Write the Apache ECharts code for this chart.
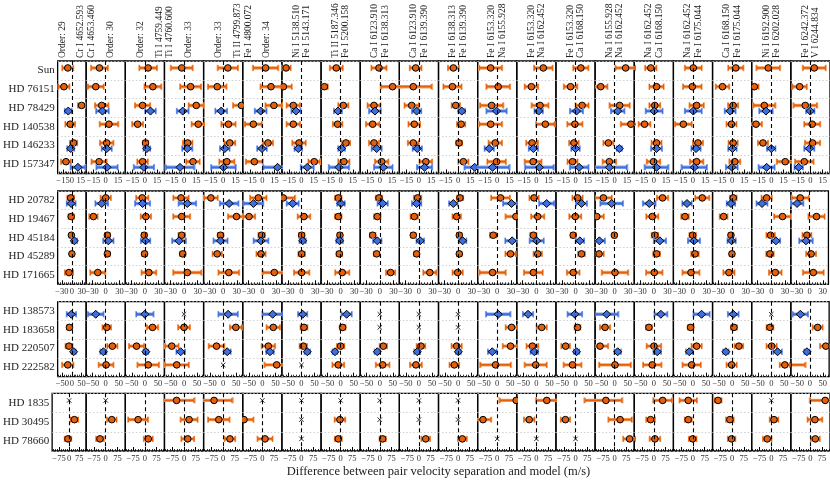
<!DOCTYPE html>
<html><head><meta charset="utf-8">
<script src="https://cdn.jsdelivr.net/npm/echarts@6/dist/echarts.min.js"></script>
<style>html,body{margin:0;padding:0;background:#fff}#c{width:830px;height:481px}</style>
</head><body><div id="c"></div><script>
// ---------- column titles ----------
const ORDER_TITLES = ['Order: 29','Order: 30','Order: 32','Order: 33','Order: 33','Order: 34'];
const PAIR_TITLES = ['Cr I 4652.593\nCr I 4653.460','Ti I 4759.449\nTi I 4760.600','Ti II 4799.873\nFe I 4800.072'];
const SINGLE_TITLES = [
 'Ni I 5138.510\nFe I 5143.171','Ti II 5187.346\nFe I 5200.158','Ca I 6123.910\nFe I 6138.313',
 'Ca I 6123.910\nFe I 6139.390','Fe I 6138.313\nFe I 6139.390','Fe I 6153.320\nNa I 6155.928',
 'Fe I 6153.320\nNa I 6162.452','Fe I 6153.320\nCa I 6168.150','Na I 6155.928\nNa I 6162.452',
 'Na I 6162.452\nCa I 6168.150','Na I 6162.452\nFe I 6175.044','Ca I 6168.150\nFe I 6175.044',
 'Ni I 6192.900\nFe I 6202.028','Fe I 6242.372\nV I 6244.834'];

// ---------- row groups & tick labels ----------
const GROUP1_STARS = ['Sun','HD 76151','HD 78429','HD 140538','HD 146233','HD 157347'];
const GROUP2_STARS = ['HD 20782','HD 19467','HD 45184','HD 45289','HD 171665'];
const GROUP3_STARS = ['HD 138573','HD 183658','HD 220507','HD 222582'];
const GROUP4_STARS = ['HD 1835','HD 30495','HD 78660'];
const GROUP_TICKS = [[-15,0,15],[-30,0,30],[-50,0,50],[-75,0,75]];
const GROUP_LIMITS = [24, 43, 75, 126];

// ---------- values (m/s): O = orange series, B = blue series, E = error ----------
const SUN_O   = [-6.9,-7.7,4,-2.8,5.7,4,-18.9,-5.3,-1,-4,-5.7,-8.1,8.5,6.5,13.4,-3.7,0.4,4.5,-3.7,4.7];
const SUN_OE  = [9,10,10.5,13,12,15,5.5,7.7,9,7,6.5,13.6,11,9,12,6.7,10,9,14,13.6];
const HD76151_O  = [-13.4,-12.2,9.8,8.1,-7.3,10.6,-22.2,-19.9,15.7,-6.9,-6.9,1.2,-6.1,-6.1,-17.1,3.3,-0.8,-11.8,-20.7,-13.2];
const HD76151_OE = [9,9.5,10,12.4,11,12.4,10,4,14,22,10.8,14,8,8,8,8.5,11,8,5,8.5];
const HD78429_O  = [16.3,-4.9,-2.8,15,22.4,14.2,-10,3.3,-7.1,-8.9,-2.8,-6.9,4.5,8.1,6.1,1.2,4.5,1.2,-8.5,-6.3];
const HD78429_OE = [6,8,9,9,10,10,8,6,7.7,8.5,5,13.8,10,7.7,12,6.5,8.5,6,13,14];
const HD78429_B  = [-6.1,-4,6.9,-1.6,-2.4,-2,-6.7,-3.3,-5.9,-2.8,4.5,-0.8,2.8,1.2,3.7,0.4,0.4,-2.4,-6.5,-0.2];
const HD78429_BE = [5.7,7.5,6.3,7,7,7,5.5,4.7,7,5.5,4,12,5,7.7,8,10,10,6.5,8,5];
const HD140538_O  = [-2.8,4,-8.9,17.5,6.5,-11,-10,-3.7,-8.7,-5.7,3.7,-8.1,11,-0.8,19.9,-11.4,-11.8,-0.8,-18.7,2.2];
const HD140538_OE = [8,11,6.5,8,8.5,10,8,5.7,8,7,5,13.6,11,9,12,7,10,6,7,9.5];
const HD146233_O  = [2.8,1.2,0.8,4.5,8.1,6.9,-3,6.5,-7.1,-6.9,1.2,-2.4,-5.3,-2,-7.7,3.3,6.1,1.2,-10.2,2.6];
const HD146233_OE = [6,8,3,5.7,6.5,6,8,5,6,6.5,3.5,8,7,5.7,6,6,6,5.5,6,9];
const HD146233_B  = [-2,1.2,2.4,4,2,-0.4,-3.9,1.2,-3.8,-2,null,-9.8,-3.7,0,5.7,3.3,3.7,0.4,0,-1.4];
const HD146233_BE = [5.7,6,4,6,5.7,5.7,4.5,4,6,5.5,null,5.5,5.5,5,3,6.5,5.5,5,5,6];
const HD157347_O  = [-10,-8.1,-2.8,11,4.5,-9.8,15.7,4,2.3,8.5,6.5,-0.8,-4,-3.7,-6.5,-0.4,4.5,3.3,17.1,-7.5];
const HD157347_OE = [8,9,6.3,8,9,10,7,6.7,8,7.5,6,11,10,6,8,8,8,6.5,10,11];
const HD157347_B  = [10.2,1.6,-1.2,-4.9,0.4,18.7,7.1,-2,4.3,6.9,20.3,-5.7,3.7,4.5,-6.5,3.3,1.6,-0.4,-5.7,-14.4];
const HD157347_BE = [12,12.6,12,17,14.6,17,7.7,12,11,9,12,20,17,11,21,14,15,7,9.5,5];

const HD20782_O  = [-3.6,0,-5.8,-6.6,-27,-8.8,-40,-5.1,-1.8,-2.9,4.2,7.3,-5.1,4.4,-24.8,19.2,20.4,2.5,-10.2,-21.5];
const HD20782_OE = [10,11,13,16.4,14.6,17.5,25,7,7,8,7,20,10,11,18,12,15,7.3,11,19];
const HD20782_B  = [-2.2,-8.8,-5.1,7.3,13.1,-19.7,-19.3,0.7,6.3,-5.1,-10.4,31.4,22.6,13.1,-6.6,-10,-13.1,-2.6,-20.4,-28.8];
const HD20782_BE = [13,13.5,16,18.6,19.7,21,12.8,8,11,10,9,18,16,11.7,24,13.5,10,9,11.7,14];
const HD19467_O  = [-2.2,-27,2.2,-5.1,29.2,-29.2,5.5,-5.1,-5.4,-10.2,-3.1,41,2.9,-0.6,-39.4,-3.4,-17.5,-18.7,24.8,15.7];
const HD19467_OE = [8,9,11,18,18,13,13.5,7,7,8,9,22,14,12.8,15,12.8,8,8.4,18,18];
const HD45184_O  = [-1.5,3.6,-1.5,-5.1,-5.8,-1.5,0.4,-1.5,-15.6,-12.4,2.7,-8.8,-6.6,-5.1,-0.7,2.4,-0.7,-2.6,-1.5,-6.2];
const HD45184_OE = [5,5,5,7,6,7,6,5,6,5,5,7,6.6,5.5,4,7,7,5,9,10];
const HD45184_B  = [7.3,5.8,1.5,-11,-5.8,-2.9,2.6,-2.2,-5.4,2.9,10,32.8,0.7,9.6,-33.6,13.4,2.2,-1.2,10.2,-8.4];
const HD45184_BE = [8,11,10,14.6,15,15.7,6.6,7,9,8,8,14.6,15,9,11.7,13,12.8,8.8,9,15];
const HD45289_O  = [0,3.6,-0.7,-2.9,-13.1,-2.9,0.4,-2.9,-6.9,-5.1,2.7,29.2,2.9,13.1,-34.3,6.1,4.4,-0.4,-2.9,3.3];
const HD45289_OE = [5,5,5,6,10,9.8,7,6,6,5,5,11,9,7.3,10,7.3,8,5,8,11];
const HD171665_O  = [-8.8,-17.5,8.8,7.3,12.4,26.3,0.4,3.6,23.8,24,-0.9,-10.2,-6.6,-5.1,0.7,1,-4.4,-7,8.8,8.4];
const HD171665_OE = [12,16,15.7,30,22,25,16.4,15,9.8,14,11,28,20,13.5,28,17.5,18,12,13.5,23];

const HD138573_B  = [-2.6,-38.3,0,null,19,39.6,4.5,23,null,null,null,3.8,-32,-2.6,-30.6,27,33,4.3,null,-37.7];
const HD138573_BE = [24,29,32,null,36,38,17,19,null,null,null,45,19,27,43,24,30,20,null,29];
const HD138573_X  = [3,8,9,10,18];
const HD183658_O  = [-12.8,3.8,29.4,0,48.5,42,9.6,7.7,null,null,null,55,20.4,7.7,-37,-18.8,-9,7,-5,30];
const HD183658_OE = [14,16,21,22,22,25,13,11,null,null,null,22,19,11,19,11,11,11,13,19];
const HD183658_X  = [8,9,10];
const HD220507_O  = [-15.3,25.5,-32,-47,-25.5,23,7,0,13.5,7.7,-5.5,51,-15.3,-38,-56,0.4,14,26,1.3,62];
const HD220507_OE = [18,19,28,25.5,29,25,14,14,14,16,19,29,22,16,30,27,19,16,19,22];
const HD220507_B  = [9,-9,3.8,-12.8,15.3,29.4,22.4,-21.7,-9.5,-6.4,1,-19,-7.7,3.8,11.5,13,-14,-24,24,-12];
const HD220507_BE = [11,11,9,16,13,14,10,9,10,11,9,16,14,10,12,14,12,10,16,10];
const HD222582_O  = [-21.7,1.3,12.8,-28,null,55,null,-9,11,-11.5,-14.4,-6.4,-2.6,-11.5,1.3,-6,-5,-2,52,-85];
const HD222582_OE = [29,27.5,40,45,null,45,null,22,25.5,22,18,57,41,33,59,34,34,19,19,65];
const HD222582_X  = [4,6];

const HD1835_O  = [null,null,null,-48,-58.8,null,null,null,null,null,null,122,67,150,-56.6,57,-30.5,-90.6,null,95];
const HD1835_OE = [null,null,null,111,115,null,null,null,null,null,null,104,67,89,102,59,54,22,null,95];
const HD1835_X  = [0,1,5,6,7,8,9,10,18];
const HD30495_O  = [39,39,-43.6,32.7,-28.3,-118,null,-4.4,null,null,null,-91.5,-46,-65,35,-21,-30.5,-14.4,17.6,29];
const HD30495_OE = [27,30,62,53,67,59,null,33,null,null,null,51,33,29,73,27,22,24,27,46];
const HD30495_X  = [6,8,9,10];
const HD78660_O  = [-8.7,-37,21.8,24,43.6,17.4,null,-15,18.7,43.6,27.7,null,null,null,96,7,-2,-3.5,-26,31.6];
const HD78660_OE = [24,24,28,40,33,47,null,22,20,27,28,null,null,null,40,33,24,24,27,28];
const HD78660_X  = [6,11,12,13];

// ---------- assemble ----------
const STAR_SERIES = {
 'Sun':{o:SUN_O,oe:SUN_OE}, 'HD 76151':{o:HD76151_O,oe:HD76151_OE},
 'HD 78429':{o:HD78429_O,oe:HD78429_OE,b:HD78429_B,be:HD78429_BE},
 'HD 140538':{o:HD140538_O,oe:HD140538_OE},
 'HD 146233':{o:HD146233_O,oe:HD146233_OE,b:HD146233_B,be:HD146233_BE},
 'HD 157347':{o:HD157347_O,oe:HD157347_OE,b:HD157347_B,be:HD157347_BE},
 'HD 20782':{o:HD20782_O,oe:HD20782_OE,b:HD20782_B,be:HD20782_BE},
 'HD 19467':{o:HD19467_O,oe:HD19467_OE},
 'HD 45184':{o:HD45184_O,oe:HD45184_OE,b:HD45184_B,be:HD45184_BE},
 'HD 45289':{o:HD45289_O,oe:HD45289_OE}, 'HD 171665':{o:HD171665_O,oe:HD171665_OE},
 'HD 138573':{b:HD138573_B,be:HD138573_BE,x:HD138573_X},
 'HD 183658':{o:HD183658_O,oe:HD183658_OE,x:HD183658_X},
 'HD 220507':{o:HD220507_O,oe:HD220507_OE,b:HD220507_B,be:HD220507_BE},
 'HD 222582':{o:HD222582_O,oe:HD222582_OE,x:HD222582_X},
 'HD 1835':{o:HD1835_O,oe:HD1835_OE,x:HD1835_X},
 'HD 30495':{o:HD30495_O,oe:HD30495_OE,x:HD30495_X},
 'HD 78660':{o:HD78660_O,oe:HD78660_OE,x:HD78660_X}
};
const GROUPS = [GROUP1_STARS, GROUP2_STARS, GROUP3_STARS, GROUP4_STARS];

// layout (pixels)
const LEFT = 47, COLW = 39.15, NCOL = 20;
const GROUP_BOX = [[61,112.5],[191,93.3],[301.7,75],[393.3,57.7]];
const FONT = 'Liberation Serif, Times New Roman, serif';
const ORANGE = '#e4600e', ORANGE_L = '#f6a25e', BLUE = '#3f6fde', BLUE_L = '#86a6f0';

function renderItem(params, api) {
  const v = api.value(0), row = api.value(1), err = api.value(2), kind = api.value(3);
  const c = api.coord([v, row]);
  const bh = api.size([0, 1])[1];
  const isBlue = (kind === 1 || kind === 3);
  const cy = c[1] + (isBlue ? 0.17 : -0.13) * bh;
  const cx = c[0];
  const ch = [];
  if (kind >= 2) {
    const s = 2.2;
    ch.push({type:'line', shape:{x1:cx-s,y1:cy-s,x2:cx+s,y2:cy+s}, style:{stroke:'#111',lineWidth:0.9}});
    ch.push({type:'line', shape:{x1:cx-s,y1:cy+s,x2:cx+s,y2:cy-s}, style:{stroke:'#111',lineWidth:0.9}});
    return {type:'group', children:ch};
  }
  const dark = isBlue ? BLUE : ORANGE, light = isBlue ? BLUE_L : ORANGE_L;
  const xl2 = api.coord([v - err*1.06, row])[0], xr2 = api.coord([v + err*1.06, row])[0];
  const xl = api.coord([v - err, row])[0], xr = api.coord([v + err, row])[0];
  ch.push({type:'line', shape:{x1:xl2,y1:cy,x2:xr2,y2:cy}, style:{stroke:light,lineWidth:3.4}});
  ch.push({type:'line', shape:{x1:xl2,y1:cy-3.2,x2:xl2,y2:cy+3.2}, style:{stroke:light,lineWidth:1.6}});
  ch.push({type:'line', shape:{x1:xr2,y1:cy-3.2,x2:xr2,y2:cy+3.2}, style:{stroke:light,lineWidth:1.6}});
  ch.push({type:'line', shape:{x1:xl,y1:cy,x2:xr,y2:cy}, style:{stroke:dark,lineWidth:1.8}});
  ch.push({type:'line', shape:{x1:xl,y1:cy-2.6,x2:xl,y2:cy+2.6}, style:{stroke:dark,lineWidth:1.2}});
  ch.push({type:'line', shape:{x1:xr,y1:cy-2.6,x2:xr,y2:cy+2.6}, style:{stroke:dark,lineWidth:1.2}});
  if (isBlue) {
    const d = 4;
    ch.push({type:'polygon', shape:{points:[[cx,cy-d],[cx+d,cy],[cx,cy+d],[cx-d,cy]]}, style:{fill:BLUE,stroke:'#000',lineWidth:1}});
  } else {
    ch.push({type:'circle', shape:{cx:cx,cy:cy,r:3.3}, style:{fill:ORANGE,stroke:'#000',lineWidth:1}});
  }
  return {type:'group', children:ch};
}

const grids = [], xAxes = [], yAxes = [], series = [];
GROUPS.forEach((stars, g) => {
  const R = GROUP_LIMITS[g], ticks = GROUP_TICKS[g];
  const step = (ticks[1]-ticks[0]) / 5;
  const minor = [];
  for (let t = Math.ceil(-R/step)*step; t <= R; t += step) minor.push(+t.toFixed(3));
  for (let k = 0; k < NCOL; k++) {
    const gi = grids.length;
    grids.push({left: LEFT + k*COLW, top: GROUP_BOX[g][0], width: COLW, height: GROUP_BOX[g][1],
      show: true, borderColor: '#000', borderWidth: 1.3, backgroundColor: 'transparent'});
    xAxes.push({type:'value', gridIndex: gi, min: -R, max: R, position:'bottom',
      axisLine:{show:false}, splitLine:{show:false},
      axisTick:{show:true, inside:true, length:4, customValues: ticks, lineStyle:{color:'#000', width:1}},
      axisLabel:{show:true, customValues: ticks, fontSize: 8.5, fontFamily: FONT, color:'#333', margin: 3,
        formatter: v => String(v).replace('-', '\u2212')}});
    xAxes.push({type:'value', gridIndex: gi, min: -R, max: R, position:'bottom',
      axisLine:{show:false}, splitLine:{show:false}, axisLabel:{show:false},
      axisTick:{show:true, inside:true, length:2, customValues: minor, lineStyle:{color:'#000', width:0.8}}});
    yAxes.push({type:'category', gridIndex: gi, data: stars, inverse: true,
      axisLine:{show:false}, axisTick:{show:false},
      axisLabel:{show: k === 0, fontSize: 11, fontFamily: FONT, color:'#222', margin: 3},
      splitLine:{show:true, interval:0, lineStyle:{color:'#c4c4c4', type:[1.5,2], width:0.8}}});
    const data = [];
    stars.forEach((name, r) => {
      const s = STAR_SERIES[name];
      if (s.o && s.o[k] != null) data.push([s.o[k], r, s.oe[k], 0]);
    });
    stars.forEach((name, r) => {
      const s = STAR_SERIES[name];
      if (s.b && s.b[k] != null) data.push([s.b[k], r, s.be[k], 1]);
      if (s.x && s.x.indexOf(k) >= 0) data.push([0, r, 0, s.o ? 2 : 3]);
    });
    series.push({type:'scatter', xAxisIndex: 2*gi, yAxisIndex: gi, data: [], z: 1, silent: true,
      markLine:{silent:true, symbol:'none', label:{show:false}, animation:false,
        lineStyle:{color:'#000', type:[4,3], width:1.1}, data:[{xAxis:0}]}});
    series.push({type:'custom', xAxisIndex: 2*gi, yAxisIndex: gi, data: data, z: 3, clip: true,
      renderItem: renderItem, silent: true, animation:false});
  }
});

// titles
const graphic = [];
const titleStyle = t => ({text:t, fontSize: 9.5, fontFamily: FONT, fill:'#222', lineHeight: 10.5, align:'left', verticalAlign:'middle'});
ORDER_TITLES.forEach((t, i) => {
  const bx = LEFT + (Math.floor(i/2)*2 + 1) * COLW;
  graphic.push({type:'text', x: bx + (i % 2 === 0 ? -24 : 24), y: 58, rotation: Math.PI/2, style: titleStyle(t)});
});
PAIR_TITLES.forEach((t, i) => {
  const bx = LEFT + (i*2 + 1) * COLW;
  graphic.push({type:'text', x: bx, y: 58, rotation: Math.PI/2, style: titleStyle(t)});
});
SINGLE_TITLES.forEach((t, i) => {
  const cx = LEFT + (i + 6.5) * COLW;
  graphic.push({type:'text', x: cx, y: 58, rotation: Math.PI/2, style: titleStyle(t)});
});
graphic.push({type:'text', x: LEFT + NCOL*COLW/2, y: 472,
  style:{text:'Difference between pair velocity separation and model (m/s)', fontSize: 12.5, fontFamily: FONT, fill:'#222', align:'center', verticalAlign:'middle'}});

const chart = echarts.init(document.getElementById('c'), null, {renderer:'canvas'});
chart.setOption({animation:false, backgroundColor:'#fff', grid: grids, xAxis: xAxes, yAxis: yAxes, series: series, graphic: graphic});
</script></body></html>
